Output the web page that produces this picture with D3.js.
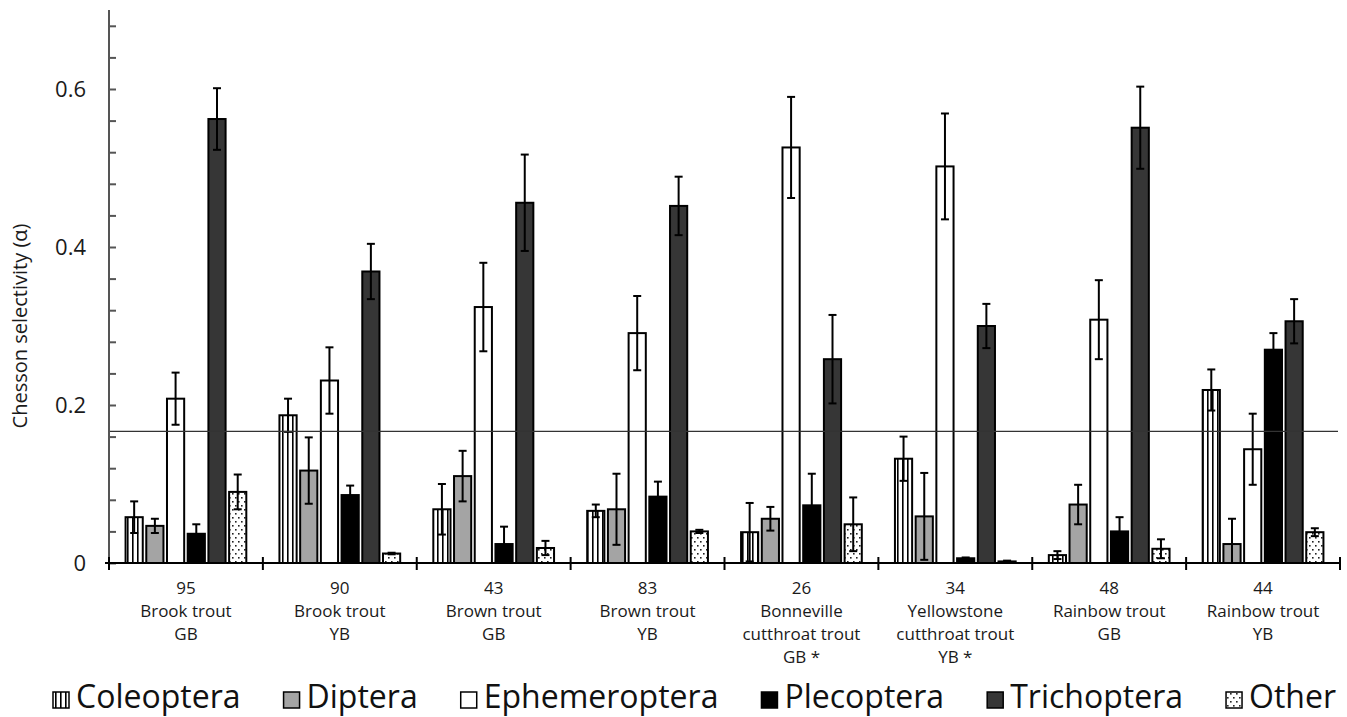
<!DOCTYPE html>
<html>
<head>
<meta charset="utf-8">
<script src="https://cdn.jsdelivr.net/npm/d3@7"></script>
<style>
  html, body { margin: 0; padding: 0; background: #fff; }
  svg { display: block; font-family: "Open Sans", "DejaVu Sans", sans-serif; }
</style>
</head>
<body>
<svg id="chart" width="1347" height="717"></svg>
<script>
// Sample sizes, species and basin for each fish group
const sampleSizes = ["95", "90", "43", "83", "26", "34", "48", "44"];
const speciesLines = [
  ["Brook trout"], ["Brook trout"], ["Brown trout"], ["Brown trout"],
  ["Bonneville", "cutthroat trout"], ["Yellowstone", "cutthroat trout"],
  ["Rainbow trout"], ["Rainbow trout"]
];
const basins = ["GB", "YB", "GB", "YB", "GB *", "YB *", "GB", "YB"];

// Prey taxa
const taxa = ["Coleoptera", "Diptera", "Ephemeroptera", "Plecoptera", "Trichoptera", "Other"];

// Mean Chesson selectivity and standard error per taxon, one entry per fish group
const coleoptera      = [0.058, 0.187, 0.068, 0.066, 0.039, 0.132, 0.010, 0.219];
const coleopteraSE    = [0.020, 0.021, 0.032, 0.008, 0.037, 0.028, 0.005, 0.026];
const diptera         = [0.047, 0.117, 0.110, 0.068, 0.056, 0.059, 0.074, 0.024];
const dipteraSE       = [0.009, 0.042, 0.032, 0.045, 0.015, 0.055, 0.025, 0.032];
const ephemeroptera   = [0.208, 0.231, 0.324, 0.291, 0.526, 0.502, 0.308, 0.144];
const ephemeropteraSE = [0.033, 0.042, 0.056, 0.047, 0.064, 0.067, 0.050, 0.045];
const plecoptera      = [0.037, 0.086, 0.024, 0.084, 0.073, 0.006, 0.040, 0.270];
const plecopteraSE    = [0.012, 0.012, 0.022, 0.019, 0.040, 0.001, 0.018, 0.021];
const trichoptera     = [0.562, 0.369, 0.456, 0.452, 0.258, 0.300, 0.551, 0.306];
const trichopteraSE   = [0.039, 0.035, 0.061, 0.037, 0.056, 0.028, 0.052, 0.028];
const other           = [0.090, 0.012, 0.019, 0.040, 0.049, 0.002, 0.018, 0.039];
const otherSE         = [0.022, 0.001, 0.009, 0.002, 0.034, 0.001, 0.012, 0.005];

// Neutral selection value (1 / number of prey categories)
const neutralSelectivity = 1 / 6;

// Axis ticks
const yMajorTicks = [0, 0.2, 0.4, 0.6];
const yTickLabels = ["0", "0.2", "0.4", "0.6"];
const yMinorStep = 0.04;
const yMax = 0.7;

const means = [coleoptera, diptera, ephemeroptera, plecoptera, trichoptera, other];
const errors = [coleopteraSE, dipteraSE, ephemeropteraSE, plecopteraSE, trichopteraSE, otherSE];

const rows = [];
sampleSizes.forEach((g, gi) => {
  taxa.forEach((t, ti) => {
    rows.push({ group: gi, taxon: t, ti, value: means[ti][gi], se: errors[ti][gi] });
  });
});

const svg = d3.select("#chart");
const plotLeft = 109, plotRight = 1340, plotTop = 10, plotBottom = 563;

const y = d3.scaleLinear().domain([0, yMax]).range([plotBottom, plotTop]);
const x0 = d3.scaleBand().domain(d3.range(sampleSizes.length)).range([plotLeft, plotRight]).padding(0);
const x1 = d3.scaleBand().domain(taxa).range([0, x0.bandwidth()]).paddingInner(0.17).paddingOuter(0.8);

// Fill patterns
const defs = svg.append("defs");
const stripe = defs.append("pattern").attr("id", "stripes")
  .attr("patternUnits", "userSpaceOnUse").attr("width", 5).attr("height", 5);
stripe.append("rect").attr("width", 5).attr("height", 5).attr("fill", "#fff");
stripe.append("rect").attr("x", 2).attr("width", 1.6).attr("height", 5).attr("fill", "#000");

const dots = defs.append("pattern").attr("id", "dots")
  .attr("patternUnits", "userSpaceOnUse").attr("width", 6).attr("height", 8);
dots.append("rect").attr("width", 6).attr("height", 8).attr("fill", "#fff");
dots.append("rect").attr("x", 1).attr("y", 1).attr("width", 1.6).attr("height", 1.6).attr("fill", "#222");
dots.append("rect").attr("x", 4).attr("y", 5).attr("width", 1.6).attr("height", 1.6).attr("fill", "#222");

const fills = d3.scaleOrdinal().domain(taxa)
  .range(["url(#stripes)", "#a4a4a4", "#ffffff", "#000000", "#363636", "url(#dots)"]);

// Bars
const bars = svg.append("g");
bars.selectAll("rect").data(rows).join("rect")
  .attr("x", d => x0(d.group) + x1(d.taxon))
  .attr("y", d => y(d.value))
  .attr("width", x1.bandwidth())
  .attr("height", d => y(0) - y(d.value))
  .attr("fill", d => fills(d.taxon))
  .attr("stroke", "#000")
  .attr("stroke-width", 2);

// Error bars
const capHalf = 4;
const eb = svg.append("g").attr("stroke", "#000").attr("stroke-width", 2).attr("fill", "none");
const ebGroups = eb.selectAll("g").data(rows).join("g")
  .attr("transform", d => `translate(${x0(d.group) + x1(d.taxon) + x1.bandwidth() / 2},0)`);
ebGroups.append("line")
  .attr("y1", d => y(d.value + d.se)).attr("y2", d => y(Math.max(0, d.value - d.se)));
ebGroups.append("line")
  .attr("x1", -capHalf).attr("x2", capHalf)
  .attr("y1", d => y(d.value + d.se)).attr("y2", d => y(d.value + d.se));
ebGroups.append("line")
  .attr("x1", -capHalf).attr("x2", capHalf)
  .attr("y1", d => y(Math.max(0, d.value - d.se))).attr("y2", d => y(Math.max(0, d.value - d.se)));

// Neutral selection line
svg.append("line")
  .attr("x1", plotLeft).attr("x2", plotRight - 2)
  .attr("y1", y(neutralSelectivity)).attr("y2", y(neutralSelectivity))
  .attr("stroke", "#333").attr("stroke-width", 1.3);

// Y axis
const yMinor = d3.range(0, Math.round(yMax / yMinorStep)).map(i => +(i * yMinorStep).toFixed(2)).filter(v => v <= yMax);
const yAxis = d3.axisLeft(y)
  .tickValues(yMinor)
  .tickSize(-7)
  .tickPadding(23)
  .tickFormat(v => {
    const i = yMajorTicks.findIndex(m => Math.abs(m - v) < 1e-9);
    return i >= 0 ? yTickLabels[i] : "";
  });
const gy = svg.append("g").attr("transform", `translate(${plotLeft},0)`).call(yAxis);
gy.select(".domain").remove();
gy.selectAll(".tick line").attr("stroke", "#555").attr("stroke-width", 2);
gy.selectAll(".tick text").attr("font-size", 22).attr("fill", "#1a1a1a")
  .attr("font-family", "'Open Sans', sans-serif");
svg.append("line").attr("x1", plotLeft).attr("x2", plotLeft).attr("y1", plotTop).attr("y2", plotBottom)
  .attr("stroke", "#555").attr("stroke-width", 2);

// X axis with ticks at group boundaries
svg.append("line").attr("x1", plotLeft - 4).attr("x2", plotRight).attr("y1", plotBottom).attr("y2", plotBottom)
  .attr("stroke", "#000").attr("stroke-width", 2);
const bounds = d3.range(sampleSizes.length + 1).map(i => i < sampleSizes.length ? x0(i) : x0(i - 1) + x0.bandwidth());
svg.append("g").selectAll("line").data(bounds).join("line")
  .attr("x1", d => d).attr("x2", d => d)
  .attr("y1", plotBottom - 6).attr("y2", plotBottom + 7)
  .attr("stroke", "#000").attr("stroke-width", 2);

// Group labels
const lineGap = 23;
const labels = svg.append("g").attr("font-size", 17).attr("fill", "#1a1a1a").attr("text-anchor", "middle");
sampleSizes.forEach((n, gi) => {
  const lines = [n, ...speciesLines[gi], basins[gi]];
  const t = labels.append("text")
    .attr("x", x0(gi) + x0.bandwidth() / 2)
    .attr("y", plotBottom + 31);
  lines.forEach((s, li) => {
    t.append("tspan").attr("x", x0(gi) + x0.bandwidth() / 2).attr("dy", li === 0 ? 0 : lineGap).text(s);
  });
});

// Y axis title
svg.append("text")
  .attr("transform", `translate(27,326) rotate(-90)`)
  .attr("text-anchor", "middle")
  .attr("font-size", 20)
  .attr("fill", "#1a1a1a")
  .text("Chesson selectivity (α)");

// Legend
const legend = svg.append("g");
const legendY = 708, sw = 16, swGap = 7;
const items = legend.selectAll("g").data(taxa).join("g");
items.append("rect")
  .attr("width", sw).attr("height", sw).attr("y", legendY - sw)
  .attr("fill", d => fills(d)).attr("stroke", "#000").attr("stroke-width", 1.5);
items.append("text")
  .attr("x", sw + swGap).attr("y", legendY)
  .attr("font-size", 32).attr("fill", "#111")
  .text(d => d);
const widths = [];
items.each(function () { widths.push(sw + swGap + this.querySelector("text").getComputedTextLength()); });
const legendLeft = 53, legendRight = 1336;
const gap = (legendRight - legendLeft - d3.sum(widths)) / (taxa.length - 1);
let cx = legendLeft;
items.each(function (d, i) {
  d3.select(this).attr("transform", `translate(${cx},0)`);
  cx += widths[i] + gap;
});
</script>
</body>
</html>
